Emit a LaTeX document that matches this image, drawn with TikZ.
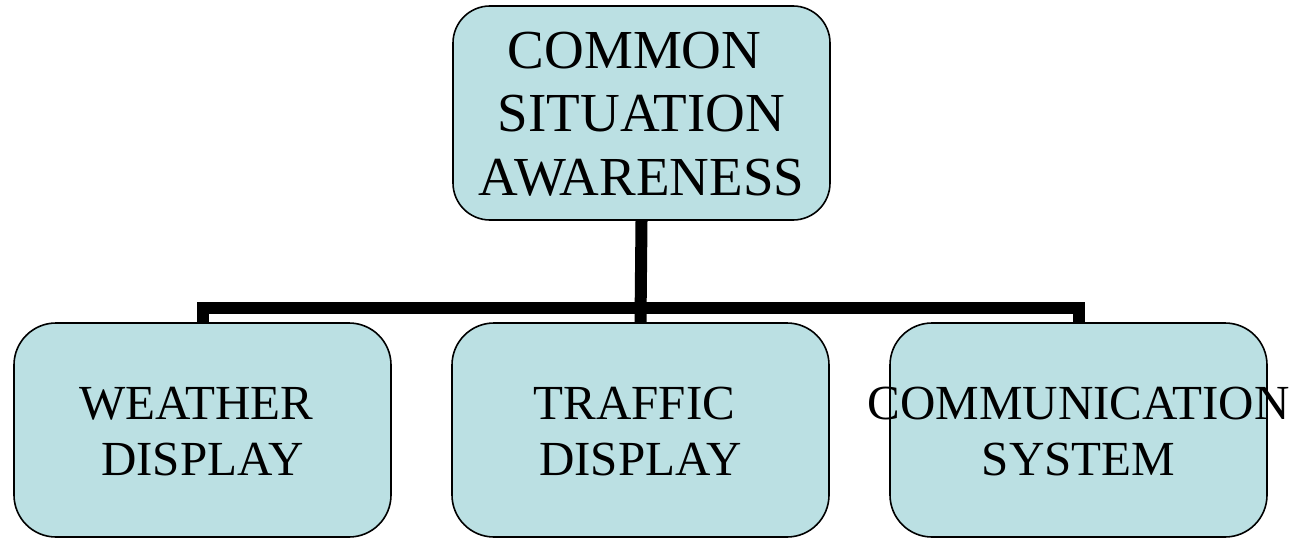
\documentclass[tikz,border=0pt]{standalone}
\usepackage{fontspec}
\setmainfont{Liberation Serif}
\definecolor{boxfill}{RGB}{187,224,227}
\begin{document}
\begin{tikzpicture}[x=1pt,y=-1pt,
  box/.style={draw=black,line width=1.6pt,fill=boxfill,rounded corners=#1,
    minimum width=377pt,minimum height=214pt,inner sep=0pt},
  box/.default=42pt,
  toptxt/.style={align=center,inner sep=0pt,font=\fontsize{55}{63.5}\selectfont},
  bottxt/.style={align=center,inner sep=0pt,font=\fontsize{49}{56}\selectfont},
  conn/.style={line width=12pt,line join=miter,line cap=butt}]
\useasboundingbox (0,0) rectangle (1295,538);
\node[box=37pt] (top) at (641.5,113) {};
\node[box] (b1) at (202.5,430) {};
\node[box] (b2) at (640.5,430) {};
\node[box] (b3) at (1078.5,430) {};
\coordinate (j) at (640,308);
\draw[conn] (top.south) -- (b2.north);
\draw[conn] (b1.north) -- (b1.north |- j) -- (b3.north |- j) -- (b3.north);
\node[toptxt] (ttop) at (641.5,114) {COMMON\hspace*{.25em}\\SITUATION\\AWARENESS};
\node[bottxt] (t1) at (202.5,432) {WEATHER\hspace*{.25em}\\DISPLAY};
\node[bottxt] (t2) at (640.5,432) {TRAFFIC\hspace*{.25em}\\DISPLAY};
\node[bottxt] (t3) at (1078.5,432) {COMMUNICATION\\SYSTEM};
\end{tikzpicture}
\end{document}
